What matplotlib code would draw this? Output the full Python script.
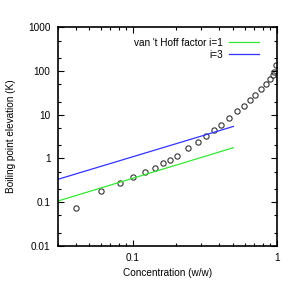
import matplotlib
matplotlib.use('Agg')
import matplotlib.pyplot as plt
import numpy as np
from matplotlib.ticker import LogLocator, NullFormatter, FixedLocator, FixedFormatter

plt.rcParams['font.family'] = ['Liberation Sans', 'DejaVu Sans']

conc = [0.040, 0.060, 0.081, 0.101, 0.121, 0.142, 0.162, 0.182, 0.203,
        0.243, 0.284, 0.324, 0.364, 0.409, 0.467, 0.529, 0.591, 0.652,
        0.709, 0.773, 0.838, 0.898, 0.935, 0.965, 0.981]
elevation = [0.074, 0.178, 0.276, 0.376, 0.493, 0.615, 0.768, 0.939, 1.15,
             1.70, 2.37, 3.28, 4.46, 5.80, 8.49, 12.0, 16.1, 21.5,
             29.1, 38.3, 50.6, 65.9, 81.4, 95.5, 139.0]

# van 't Hoff lines (end points)
line_x = [0.03, 0.5]
line_i1 = [0.105, 1.76]
line_i3 = [0.33, 5.4]

fs = 7.2
fig = plt.figure(figsize=(2.95, 2.95), dpi=100)
ax = fig.add_axes([0.195, 0.167, 0.743, 0.74])

ax.plot(conc, elevation, 'o', ms=3.8, mfc='none', mec='#333333', mew=0.8)
ax.plot(line_x, line_i1, color='#33e833', lw=0.9, label="van 't Hoff factor i=1")
ax.plot(line_x, line_i3, color='#3333ff', lw=0.9, label='i=3')

ax.set_xscale('log')
ax.set_yscale('log')
ax.set_xlim(0.03, 1)
ax.set_ylim(0.01, 1000)

ax.xaxis.set_major_locator(FixedLocator([0.1, 1]))
ax.xaxis.set_major_formatter(FixedFormatter(['0.1', '1']))
ax.xaxis.set_minor_locator(LogLocator(base=10, subs=np.arange(2, 10)))
ax.xaxis.set_minor_formatter(NullFormatter())

yt = [0.01, 0.1, 1, 10, 100, 1000]
ax.yaxis.set_major_locator(FixedLocator(yt))
ax.yaxis.set_major_formatter(FixedFormatter(['0.01', '0.1', '1', '10', '100', '1000']))
ax.yaxis.set_minor_locator(LogLocator(base=10, subs=[2, 5]))
ax.yaxis.set_minor_formatter(NullFormatter())

ax.tick_params(which='both', direction='in', top=True, right=True, labelsize=fs, width=0.8, color='black')
ax.tick_params(which='major', length=4, pad=5)
ax.tick_params(which='minor', length=2)
for s in ax.spines.values():
    s.set_linewidth(1.2)

ax.set_xlabel('Concentration (w/w)', fontsize=fs, labelpad=4)
ax.set_ylabel('Boiling point elevation (K)', fontsize=fs, labelpad=9)

ax.legend(loc='upper right', bbox_to_anchor=(0.943, 0.975), frameon=False, markerfirst=False,
          fontsize=fs, handlelength=3.0, handletextpad=0.6, labelspacing=0.2, borderpad=0)

fig.savefig('out.png', dpi=100)
